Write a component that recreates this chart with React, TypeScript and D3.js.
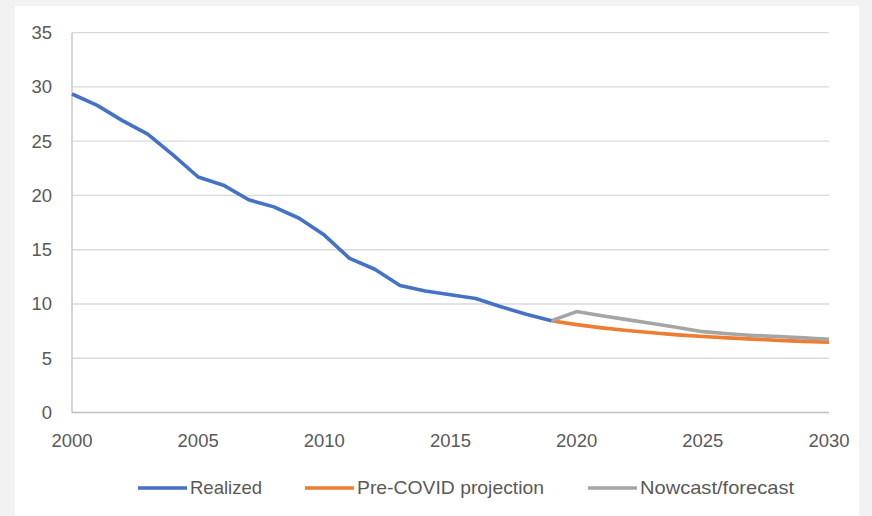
import React from 'react';
import * as d3 from 'd3';

// valeurs
const realizedYears = d3.range(2000, 2020);
const realized = [29.35, 28.3, 26.9, 25.65, 23.75, 21.7, 20.95, 19.6, 18.95, 17.9, 16.35, 14.2, 13.2, 11.7, 11.2, 10.85, 10.5, 9.75, 9.05, 8.46];
const projYears = d3.range(2019, 2031);
const preCovid = [8.46, 8.1, 7.8, 7.55, 7.35, 7.15, 7.0, 6.88, 6.76, 6.65, 6.55, 6.47];
const nowcast = [8.46, 9.3, 8.92, 8.56, 8.2, 7.84, 7.45, 7.25, 7.1, 7.0, 6.88, 6.75];
const yTicks = [0, 5, 10, 15, 20, 25, 30, 35];
const xTicks = [2000, 2005, 2010, 2015, 2020, 2025, 2030];
const legend = [
  { name: 'Realized', color: '#4472C4', width: 72 },
  { name: 'Pre-COVID projection', color: '#ED7D31', width: 187 },
  { name: 'Nowcast/forecast', color: '#A5A5A5', width: 154 },
];

const W = 872;
const H = 516;
const font = '"Liberation Sans", Arial, sans-serif';
const textColor = '#595959';

export default function App() {
  const x = d3.scaleLinear().domain([2000, 2030]).range([72, 829]);
  const y = d3.scaleLinear().domain([0, 35]).range([412.5, 32.7]);

  const line = d3.line<[number, number]>()
    .x(d => x(d[0]))
    .y(d => y(d[1]));

  const zip = (xs: number[], vs: number[]) => xs.map((k, i) => [k, vs[i]] as [number, number]);

  // positions de la légende
  const legendX = [138, 305, 588];
  const legendY = 488;

  return (
    <div style={{ position: 'absolute', left: 0, top: 0 }}>
      <svg width={W} height={H} style={{ display: 'block' }}>
        <rect x={0} y={0} width={W} height={H} fill="#f2f2f2" />
        <rect x={15} y={6} width={844} height={H - 6} fill="#ffffff" />

        {/* grille */}
        {yTicks.filter(t => t > 0).map(t => (
          <line key={t} x1={x(2000)} x2={x(2030)} y1={y(t)} y2={y(t)} stroke="#d9d9d9" strokeWidth={1.3} />
        ))}
        <line x1={x(2000)} x2={x(2030)} y1={y(0)} y2={y(0)} stroke="#bfbfbf" strokeWidth={1.3} />
        <line x1={x(2000)} x2={x(2000)} y1={y(0)} y2={y(35)} stroke="#bfbfbf" strokeWidth={1.3} />

        {/* étiquettes */}
        {yTicks.map(t => (
          <text key={t} x={52} y={y(t)} dy="0.35em" textAnchor="end" fontFamily={font} fontSize={18.5} fill={textColor}>{t}</text>
        ))}
        {xTicks.map(t => (
          <text key={t} x={x(t)} y={447} textAnchor="middle" fontFamily={font} fontSize={18.5} fill={textColor}>{t}</text>
        ))}

        {/* séries */}
        <path d={line(zip(projYears, preCovid)) || ''} fill="none" stroke="#ED7D31" strokeWidth={3.6} strokeLinejoin="round" />
        <path d={line(zip(projYears, nowcast)) || ''} fill="none" stroke="#A5A5A5" strokeWidth={3.6} strokeLinejoin="round" />
        <path d={line(zip(realizedYears, realized)) || ''} fill="none" stroke="#4472C4" strokeWidth={3.6} strokeLinejoin="round" />

        {/* légende */}
        {legend.map((l, i) => (
          <g key={l.name}>
            <line x1={legendX[i]} x2={legendX[i] + 49} y1={legendY} y2={legendY} stroke={l.color} strokeWidth={3.6} />
            <text x={legendX[i] + 52} y={legendY} dy="0.35em" fontFamily={font} fontSize={18.5} fill={textColor}
              textLength={l.width} lengthAdjust="spacingAndGlyphs">{l.name}</text>
          </g>
        ))}
      </svg>
    </div>
  );
}
